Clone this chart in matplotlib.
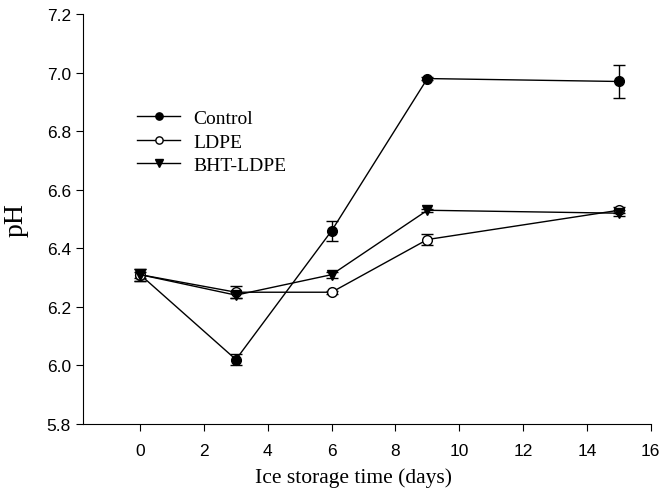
import numpy as np
import matplotlib.pyplot as plt

days = [0, 3, 6, 9, 15]
control = [6.31, 6.02, 6.46, 6.98, 6.97]
control_err = [0.02, 0.02, 0.035, 0.005, 0.058]
ldpe = [6.31, 6.25, 6.25, 6.43, 6.53]
ldpe_err = [0.02, 0.02, 0.005, 0.02, 0.01]
bht = [6.31, 6.24, 6.31, 6.53, 6.52]
bht_err = [0.01, 0.01, 0.01, 0.005, 0.01]

fig = plt.figure(figsize=(6.62, 4.89), dpi=100)
ax = fig.add_axes([0.125, 0.131, 0.858, 0.838])

kw = dict(color='black', lw=1, capsize=4, elinewidth=1, capthick=1, ms=7)
ax.errorbar(days, control, yerr=control_err, marker='o', mfc='black', mec='black', label='Control', **kw)
ax.errorbar(days, ldpe, yerr=ldpe_err, marker='o', mfc='white', mec='black', label='LDPE', **kw)
ax.errorbar(days, bht, yerr=bht_err, marker='v', mfc='black', mec='black', label='BHT-LDPE', **kw)

ax.set_xlim(-1.8, 16)
ax.set_ylim(5.8, 7.2)
ax.set_xticks(np.arange(0, 17, 2))
ax.set_yticks(np.arange(5.8, 7.21, 0.2))
ax.set_yticklabels(['%.1f' % v for v in np.arange(5.8, 7.21, 0.2)])
for lab in ax.get_xticklabels() + ax.get_yticklabels():
    lab.set_family('Liberation Sans')
    lab.set_fontsize(12.5)
ax.spines['top'].set_visible(False)
ax.spines['right'].set_visible(False)
ax.tick_params(direction='out', length=5)
ax.tick_params(axis='x', pad=9)

ax.set_xlabel('Ice storage time (days)', family='Liberation Serif', fontsize=15.5)
ax.xaxis.set_label_coords(0.477, -0.105)
ax.set_ylabel('pH', family='Liberation Serif', fontsize=20)
ax.yaxis.set_label_coords(-0.095, 0.5)

handles, labels = ax.get_legend_handles_labels()
handles = [h[0] for h in handles]
ax.legend(handles, labels, loc='upper left', bbox_to_anchor=(0.065, 0.81), frameon=False,
          prop={'family': 'Liberation Serif', 'size': 14}, handlelength=2.2,
          handletextpad=0.7, labelspacing=0.3, markerscale=0.75)

fig.savefig('out.png', dpi=100)
